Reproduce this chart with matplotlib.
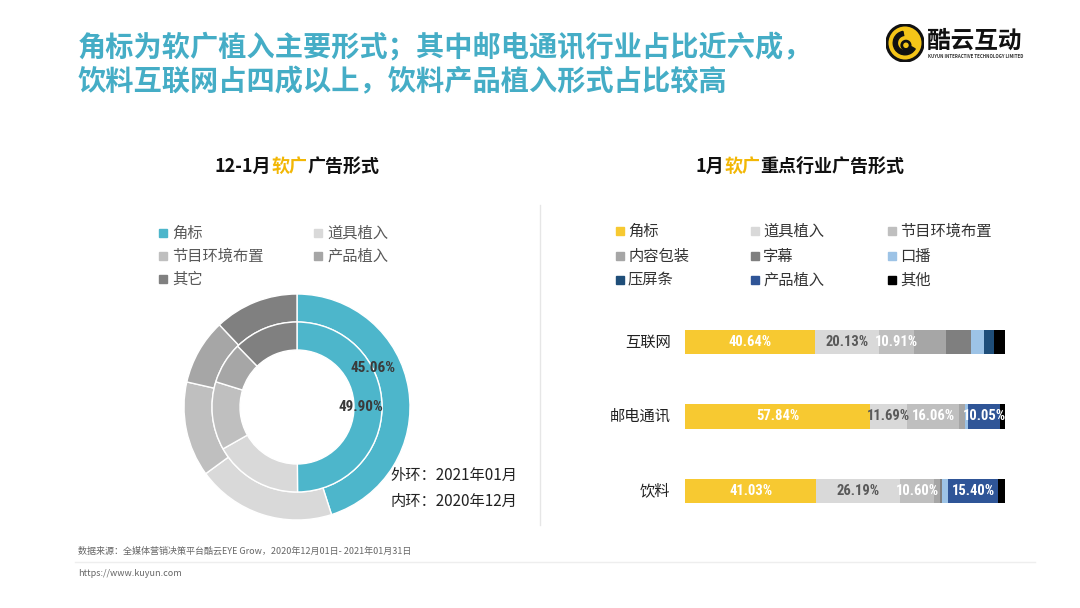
import matplotlib
matplotlib.use("Agg")
import matplotlib.pyplot as plt
import numpy as np
from matplotlib.patches import Circle, Wedge
from matplotlib import font_manager

plt.rcParams['font.family'] = ['Noto Sans CJK SC', 'DejaVu Sans']

# ---- data ----
ring_labels = ['角标', '道具植入', '节目环境布置', '产品植入', '其它']
outer_2101 = [45.06, 19.9, 13.6, 9.4, 12.04]   # 外环 2021年01月
inner_2012 = [49.90, 16.9, 13.0, 7.9, 12.3]    # 内环 2020年12月

industries = ['互联网', '邮电通讯', '饮料']
forms = ['角标', '道具植入', '节目环境布置', '内容包装', '字幕', '口播', '压屏条', '产品植入', '其他']
share = {
    '互联网':   [40.64, 20.13, 10.91, 9.8, 7.8, 4.2, 3.0, 0.0, 3.52],
    '邮电通讯': [57.84, 11.69, 16.06, 1.9, 0.0, 1.0, 0.0, 10.05, 1.46],
    '饮料':     [41.03, 26.19, 10.60, 2.0, 0.5, 2.0, 0.0, 15.40, 2.28],
}

ring_colors = ['#4DB6CB', '#D9D9D9', '#BFBFBF', '#A6A6A6', '#808080']
form_colors = ['#F7C931', '#D9D9D9', '#BFBFBF', '#A6A6A6', '#7F7F7F',
               '#9DC3E6', '#1F4E79', '#2F5597', '#000000']

# narrow font for the numbers, if one is around
installed = {f.name for f in font_manager.fontManager.ttflist}
numfont = [f for f in ['DejaVu Sans Condensed', 'Liberation Sans Narrow', 'Roboto Condensed',
                       'Roboto', 'DejaVu Sans'] if f in installed][:1] + ['DejaVu Sans']
numstretch = 'condensed'

W, H = 1080, 608
fig = plt.figure(figsize=(W / 100, H / 100), dpi=100)


def fx(x):
    return x / W


def fy(y):
    return 1 - y / H


# ---- header ----
teal = '#45ADC6'
fig.text(fx(78), fy(48), '角标为软广植入主要形式；其中邮电通讯行业占比近六成，',
         fontsize=20.3, fontweight='bold', color=teal, va='center')
fig.text(fx(78), fy(82), '饮料互联网占四成以上，饮料产品植入形式占比较高',
         fontsize=20.3, fontweight='bold', color=teal, va='center')

# logo
lax = fig.add_axes([fx(886), fy(62), fx(38), 38 / H])
lax.set_xlim(-1, 1)
lax.set_ylim(-1, 1)
lax.set_aspect('equal')
lax.axis('off')
lax.add_patch(Circle((0, 0), 0.95, facecolor='#F5C518', edgecolor='#111111', lw=2.2))
lax.add_patch(Wedge((0, 0), 0.62, 100, 330, width=0.22, color='#111111'))
lax.add_patch(Circle((0.05, -0.12), 0.22, facecolor='none', edgecolor='#111111', lw=2))
fig.text(fx(927), fy(41), '酷云互动', fontsize=17, fontweight='bold', color='#111111', va='center')
fig.text(fx(928), fy(57), 'KUYUN INTERACTIVE TECHNOLOGY LIMITED', fontsize=3.2,
         color='#333333', va='center', fontweight='bold')

# ---- sub titles ----
gold = '#F2B705'
def rich_title(xc, y, parts):
    r = fig.canvas.get_renderer()
    objs = []
    for t, c in parts:
        objs.append(fig.text(0, fy(y), t, fontsize=13, fontweight='bold', color=c, va='center'))
    widths = [o.get_window_extent(renderer=r).width for o in objs]
    x = xc - sum(widths) / 2
    for o, w in zip(objs, widths):
        o.set_x(fx(x))
        x += w

rich_title(297, 166, [('12-1月', '#111111'), ('软广', gold), ('广告形式', '#111111')])
rich_title(800, 166, [('1月', '#111111'), ('软广', gold), ('重点行业广告形式', '#111111')])

# divider
fig.add_artist(plt.Line2D([fx(540), fx(540)], [fy(205), fy(525)], color='#E6E6E6', lw=1))

# ---- donut ----
cx, cy, R = 297, 407, 113
pax = fig.add_axes([fx(cx - R), fy(cy + R), 2 * R / W, 2 * R / H])
w = 28 / R
pax.pie(outer_2101, colors=ring_colors, startangle=90, counterclock=False, radius=1,
        wedgeprops=dict(width=w, edgecolor='white', linewidth=1))
pax.pie(inner_2012, colors=ring_colors, startangle=90, counterclock=False, radius=1 - w,
        wedgeprops=dict(width=w, edgecolor='white', linewidth=1))
pax.set_xlim(-1, 1)
pax.set_ylim(-1, 1)
pax.set_aspect('equal')

fig.text(fx(373), fy(368), f'{outer_2101[0]:.2f}%', fontsize=11, fontweight='bold',
         color='#3A3A3A', ha='center', va='center', family=numfont, fontstretch=numstretch)
fig.text(fx(361), fy(407), f'{inner_2012[0]:.2f}%', fontsize=11, fontweight='bold',
         color='#3A3A3A', ha='center', va='center', family=numfont, fontstretch=numstretch)
fig.text(fx(390), fy(475), '外环：2021年01月', fontsize=11, color='#222222', va='center')
fig.text(fx(390), fy(501), '内环：2020年12月', fontsize=11, color='#222222', va='center')

# left legend
left_pos = [(163, 233), (318, 233), (163, 256), (318, 256), (163, 279)]
for (x, y), lab, c in zip(left_pos, ring_labels, ring_colors):
    fig.patches.append(plt.Rectangle((fx(x - 4), fy(y + 4)), 8 / W, 8 / H, color=c,
                                     transform=fig.transFigure))
    fig.text(fx(x + 9), fy(y), lab, fontsize=11, color='#595959', va='center')

# ---- stacked bars ----
bax = fig.add_axes([fx(685), fy(528.25), 320 / W, 223.5 / H])
ypos = np.arange(len(industries))
left = np.zeros(len(industries))
for j, (form, col) in enumerate(zip(forms, form_colors)):
    vals = np.array([share[ind][j] for ind in industries])
    bax.barh(ypos, vals, left=left, height=0.335, color=col, linewidth=0)
    for i, v in enumerate(vals):
        if v >= 10:
            tc = '#595959' if form == '道具植入' else 'white'
            bax.text(left[i] + v / 2, ypos[i], f'{v:.2f}%', ha='center', va='center',
                     fontsize=10.5, fontweight='bold', color=tc, family=numfont,
                     fontstretch=numstretch)
    left += vals
bax.set_xlim(0, 100)
bax.set_ylim(2.5, -0.5)
bax.axis('off')
for i, ind in enumerate(industries):
    bax.text(-4.5, ypos[i], ind, ha='right', va='center', fontsize=11, color='#222222')

# right legend
cols_x = [620, 755, 892]
rows_y = [231, 256, 280]
for k, (lab, c) in enumerate(zip(forms, form_colors)):
    x = cols_x[k % 3]
    y = rows_y[k // 3]
    fig.patches.append(plt.Rectangle((fx(x - 4), fy(y + 4)), 8 / W, 8 / H, color=c,
                                     transform=fig.transFigure))
    fig.text(fx(x + 8), fy(y), lab, fontsize=11, color='#333333', va='center')

# ---- footer ----
fig.text(fx(78), fy(551), '数据来源：全媒体营销决策平台酷云EYE Grow，2020年12月01日- 2021年01月31日',
         fontsize=6.5, color='#666666', va='center')
fig.add_artist(plt.Line2D([fx(75), fx(1035)], [fy(562), fy(562)], color='#EEEEEE', lw=1))
fig.text(fx(78), fy(574), 'https://www.kuyun.com', fontsize=6.5, color='#666666', va='center')

fig.savefig('out.png', dpi=100)
